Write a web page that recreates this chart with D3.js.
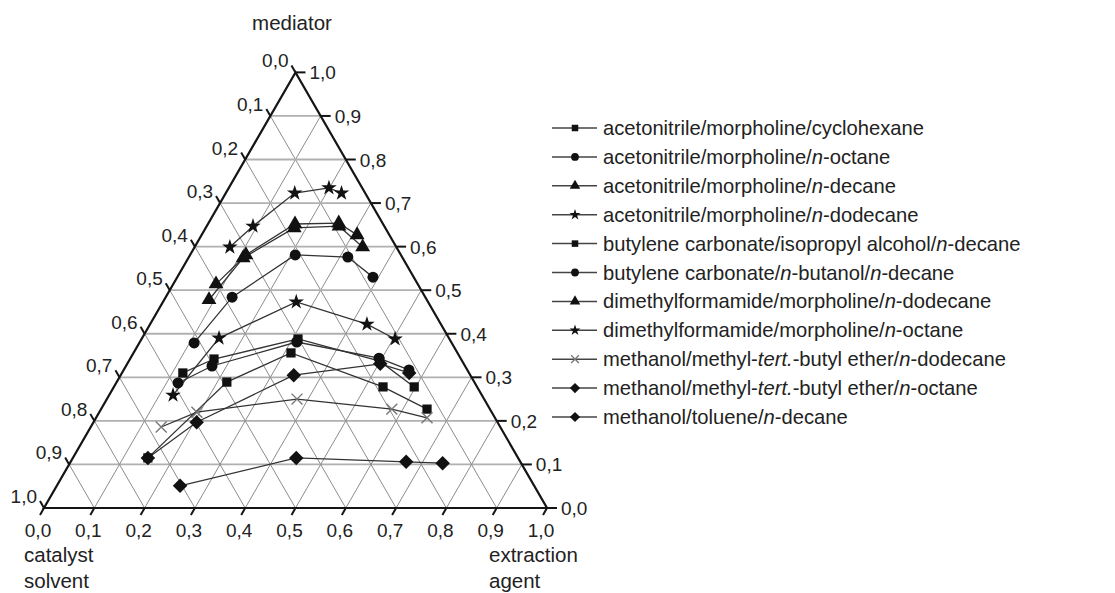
<!DOCTYPE html>
<html>
<head>
<meta charset="utf-8">
<script src="https://d3js.org/d3.v7.min.js"></script>
<style>
    body { margin: 0; background: #fff; }
    svg { font-family: "Liberation Sans", Arial, sans-serif; }
    .grid { stroke: #8c8c8c; stroke-width: 1; fill: none; }
    .hgrid { stroke: #b0b0b0; stroke-width: 1.8; fill: none; }
    .frame { stroke: #151515; stroke-width: 2.2; fill: none; }
    .tickmark { stroke: #151515; stroke-width: 2; }
    .ticklabel { font-size: 19px; fill: #222; }
    .title { font-size: 20.5px; fill: #222; }
    .series { fill: none; stroke: #333; stroke-width: 1.3; }
    .legend text { font-size: 20.2px; fill: #222; }
    .legend line { stroke: #444; stroke-width: 1.5; }
</style>
</head>
<body>
<script>
    var width = 1115, height = 593;
    // corners of the triangle (bottom side and base line)
    var left = 44, right = 547, base = 508;
    var side = right - left, tall = side * Math.sqrt(3) / 2;

    // axis ticks and labels (same for all three sides)
    var tickValues = [0, 0.1, 0.2, 0.3, 0.4, 0.5, 0.6, 0.7, 0.8, 0.9, 1.0];
    var tickLabels = ["0,0", "0,1", "0,2", "0,3", "0,4", "0,5", "0,6", "0,7", "0,8", "0,9", "1,0"];

    var seriesNames = [
        "acetonitrile/morpholine/cyclohexane",
        "acetonitrile/morpholine/<i>n</i>-octane",
        "acetonitrile/morpholine/<i>n</i>-decane",
        "acetonitrile/morpholine/<i>n</i>-dodecane",
        "butylene carbonate/isopropyl alcohol/<i>n</i>-decane",
        "butylene carbonate/<i>n</i>-butanol/<i>n</i>-decane",
        "dimethylformamide/morpholine/<i>n</i>-dodecane",
        "dimethylformamide/morpholine/<i>n</i>-octane",
        "methanol/methyl-<i>tert.</i>-butyl ether/<i>n</i>-dodecane",
        "methanol/methyl-<i>tert.</i>-butyl ether/<i>n</i>-octane",
        "methanol/toluene/<i>n</i>-decane"
    ];

    // points as [extraction agent, mediator] fractions (catalyst solvent = rest)
    var acnMorCyclohexane = [[0.121, 0.310], [0.167, 0.342], [0.311, 0.388], [0.499, 0.337], [0.597, 0.278]];
    var acnMorOctane = [[0.109, 0.379], [0.132, 0.484], [0.209, 0.581], [0.316, 0.576], [0.389, 0.530]];
    var acnMorDecane = [[0.089, 0.478], [0.109, 0.574], [0.176, 0.643], [0.263, 0.647], [0.334, 0.599]];
    var acnMorDodecane = [[0.070, 0.599], [0.092, 0.647], [0.137, 0.723], [0.199, 0.735], [0.230, 0.723]];
    var bcIpaDecane = [[0.149, 0.115], [0.219, 0.289], [0.313, 0.356], [0.535, 0.278], [0.648, 0.227]];
    var bcButanolDecane = [[0.123, 0.287], [0.171, 0.326], [0.312, 0.381], [0.494, 0.344], [0.567, 0.317]];
    var dmfMorDodecane = [[0.085, 0.514], [0.111, 0.581], [0.173, 0.652], [0.259, 0.654], [0.309, 0.627]];
    var dmfMorOctane = [[0.127, 0.259], [0.153, 0.390], [0.265, 0.473], [0.431, 0.422], [0.504, 0.388]];
    var meohMtbeDodecane = [[0.140, 0.186], [0.194, 0.220], [0.378, 0.250], [0.578, 0.227], [0.658, 0.207]];
    var meohMtbeOctane = [[0.149, 0.115], [0.205, 0.197], [0.344, 0.305], [0.503, 0.331], [0.571, 0.310]];
    var meohTolueneDecane = [[0.245, 0.051], [0.444, 0.115], [0.667, 0.106], [0.741, 0.103]];

    var allSeries = [acnMorCyclohexane, acnMorOctane, acnMorDecane, acnMorDodecane, bcIpaDecane,
        bcButanolDecane, dmfMorDodecane, dmfMorOctane, meohMtbeDodecane, meohMtbeOctane, meohTolueneDecane];

    // marker shapes, one per series
    var symbolX = {draw: function(ctx, size) {
        var r = Math.sqrt(size) / 2;
        ctx.moveTo(-r, -r); ctx.lineTo(r, r);
        ctx.moveTo(r, -r); ctx.lineTo(-r, r);
    }};
    var symbolRhomb = {draw: function(ctx, size) {
        var r = Math.sqrt(size / 2);
        ctx.moveTo(0, -r); ctx.lineTo(r, 0); ctx.lineTo(0, r); ctx.lineTo(-r, 0); ctx.closePath();
    }};
    var shapes = [d3.symbolSquare, d3.symbolCircle, d3.symbolTriangle, d3.symbolStar, d3.symbolSquare,
        d3.symbolCircle, d3.symbolTriangle, d3.symbolStar, symbolX, symbolRhomb, symbolRhomb];
    var sizes = [85, 95, 95, 75, 85, 95, 95, 75, 120, 105, 105];

    var x = d3.scaleLinear().domain([0, 1]).range([left, right]);
    var y = d3.scaleLinear().domain([0, 1]).range([base, base - tall]);
    function px(p) { return x(p[0] + p[1] / 2); }
    function py(p) { return y(p[1]); }

    var svg = d3.select("body").append("svg")
        .attr("width", width)
        .attr("height", height);

    // grid
    var grid = svg.append("g");
    tickValues.slice(1, 10).forEach(function(t) {
        // constant mediator (horizontal)
        grid.append("line").attr("class", "hgrid")
            .attr("x1", px([0, t])).attr("y1", py([0, t]))
            .attr("x2", px([1 - t, t])).attr("y2", py([1 - t, t]));
        // constant extraction agent
        grid.append("line").attr("class", "grid")
            .attr("x1", px([t, 0])).attr("y1", py([t, 0]))
            .attr("x2", px([t, 1 - t])).attr("y2", py([t, 1 - t]));
        // constant catalyst solvent
        grid.append("line").attr("class", "grid")
            .attr("x1", px([1 - t, 0])).attr("y1", py([1 - t, 0]))
            .attr("x2", px([0, 1 - t])).attr("y2", py([0, 1 - t]));
    });

    svg.append("path").attr("class", "frame")
        .attr("d", d3.line()([[px([0, 0]), py([0, 0])], [px([1, 0]), py([1, 0])], [px([0, 1]), py([0, 1])]]) + "Z");

    // bottom axis: extraction agent
    var axB = svg.append("g");
    tickValues.forEach(function(t, i) {
        var p = [t, 0];
        axB.append("line").attr("class", "tickmark")
            .attr("x1", px(p)).attr("y1", py(p)).attr("x2", px(p) - 4).attr("y2", py(p) + 7);
        axB.append("text").attr("class", "ticklabel")
            .attr("x", px(p) - 6).attr("y", py(p) + 29)
            .attr("text-anchor", "middle").text(tickLabels[i]);
    });

    // right axis: mediator
    var axR = svg.append("g");
    tickValues.forEach(function(t, i) {
        var p = [1 - t, t];
        axR.append("line").attr("class", "tickmark")
            .attr("x1", px(p)).attr("y1", py(p)).attr("x2", px(p) + 10).attr("y2", py(p));
        axR.append("text").attr("class", "ticklabel")
            .attr("x", px(p) + 14).attr("y", py(p) + 7).text(tickLabels[i]);
    });

    // left axis: catalyst solvent
    var axL = svg.append("g");
    tickValues.forEach(function(t, i) {
        var p = [0, 1 - t];
        axL.append("line").attr("class", "tickmark")
            .attr("x1", px(p)).attr("y1", py(p)).attr("x2", px(p) - 4).attr("y2", py(p) - 7);
        axL.append("text").attr("class", "ticklabel")
            .attr("x", px(p) - 7).attr("y", py(p) - 5)
            .attr("text-anchor", "end").text(tickLabels[i]);
    });

    // axis titles
    svg.append("text").attr("class", "title").attr("x", 292).attr("y", 30)
        .attr("text-anchor", "middle").text("mediator");
    svg.append("text").attr("class", "title").attr("x", 24).attr("y", 562).text("catalyst");
    svg.append("text").attr("class", "title").attr("x", 24).attr("y", 588).text("solvent");
    svg.append("text").attr("class", "title").attr("x", 489).attr("y", 562).text("extraction");
    svg.append("text").attr("class", "title").attr("x", 489).attr("y", 588).text("agent");

    // series lines and markers
    var line = d3.line().x(px).y(py);
    allSeries.forEach(function(data, i) {
        svg.append("path").datum(data).attr("class", "series").attr("d", line);
    });
    allSeries.forEach(function(data, i) {
        var isX = shapes[i] === symbolX;
        svg.selectAll(".m" + i)
            .data(data)
            .enter().append("path")
            .attr("class", "m" + i)
            .attr("transform", function(d) { return "translate(" + px(d) + "," + py(d) + ")"; })
            .attr("d", d3.symbol().type(shapes[i]).size(sizes[i]))
            .attr("fill", isX ? "none" : "#111")
            .attr("stroke", isX ? "#777" : "none")
            .attr("stroke-width", 1.4);
    });

    // legend
    var legend = svg.append("g").attr("class", "legend");
    seriesNames.forEach(function(name, i) {
        var cy = 128 + i * 28.9;
        legend.append("line").attr("x1", 552).attr("x2", 597).attr("y1", cy).attr("y2", cy);
        var isX = shapes[i] === symbolX;
        legend.append("path")
            .attr("transform", "translate(575," + cy + ")")
            .attr("d", d3.symbol().type(shapes[i]).size(sizes[i] * 0.5))
            .attr("fill", isX ? "none" : "#111")
            .attr("stroke", isX ? "#777" : "none")
            .attr("stroke-width", 1.3);
        var txt = legend.append("text").attr("x", 603).attr("y", cy + 7);
        name.split(/(<i>.*?<\/i>)/).forEach(function(part) {
            if (!part) return;
            var it = part.indexOf("<i>") === 0;
            txt.append("tspan")
                .style("font-style", it ? "italic" : "normal")
                .text(it ? part.slice(3, -4) : part);
        });
    });
</script>
</body>
</html>
